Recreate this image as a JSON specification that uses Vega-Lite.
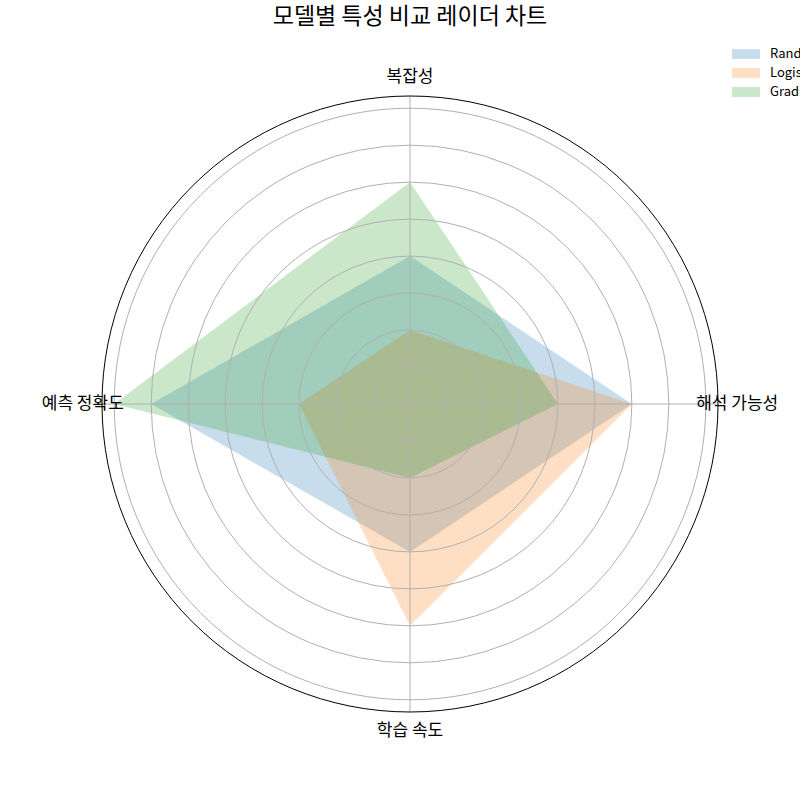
{
  "$schema": "https://vega.github.io/schema/vega-lite/v6.json",
  "width": 616,
  "height": 616,
  "autosize": {"type": "none"},
  "padding": {"left": 102, "top": 96, "right": 82, "bottom": 88},
  "background": "white",
  "title": {
    "text": "모델별 특성 비교 레이더 차트",
    "fontSize": 23,
    "font": "Noto Sans CJK KR",
    "fontWeight": "normal",
    "color": "#000000",
    "anchor": "middle",
    "frame": "group",
    "offset": 18
  },
  "config": {"view": {"stroke": null}, "font": "Noto Sans CJK KR"},
  "datasets": {
    "scores": [
      {"model": "Random Forest", "feature": "복잡성", "value": 4},
      {"model": "Random Forest", "feature": "해석 가능성", "value": 6},
      {"model": "Random Forest", "feature": "학습 속도", "value": 4},
      {"model": "Random Forest", "feature": "예측 정확도", "value": 7},
      {"model": "Logistic Regression", "feature": "복잡성", "value": 2},
      {"model": "Logistic Regression", "feature": "해석 가능성", "value": 6},
      {"model": "Logistic Regression", "feature": "학습 속도", "value": 6},
      {"model": "Logistic Regression", "feature": "예측 정확도", "value": 3},
      {"model": "Gradient Boosting", "feature": "복잡성", "value": 6},
      {"model": "Gradient Boosting", "feature": "해석 가능성", "value": 4},
      {"model": "Gradient Boosting", "feature": "학습 속도", "value": 2},
      {"model": "Gradient Boosting", "feature": "예측 정확도", "value": 8}
    ],
    "rings": [{"r": 1}, {"r": 2}, {"r": 3}, {"r": 4}, {"r": 5}, {"r": 6}, {"r": 7}, {"r": 8}],
    "features": [
      {"feature": "복잡성"},
      {"feature": "해석 가능성"},
      {"feature": "학습 속도"},
      {"feature": "예측 정확도"}
    ]
  },
  "layer": [
    {
      "data": {"name": "scores"},
      "transform": [
        {"calculate": "indexof(['복잡성','해석 가능성','학습 속도','예측 정확도'], datum.feature)", "as": "k"},
        {"calculate": "datum.value*sin(datum.k*PI/2)", "as": "px"},
        {"calculate": "datum.value*cos(datum.k*PI/2)", "as": "py"}
      ],
      "mark": {"type": "line", "filled": true, "interpolate": "linear-closed", "fillOpacity": 0.25, "strokeWidth": 0},
      "encoding": {
        "x": {"field": "px", "type": "quantitative", "scale": {"domain": [-8.33, 8.33], "nice": false, "zero": false}, "axis": null},
        "y": {"field": "py", "type": "quantitative", "scale": {"domain": [-8.33, 8.33], "nice": false, "zero": false}, "axis": null},
        "order": {"field": "k", "type": "quantitative"},
        "color": {
          "field": "model",
          "type": "nominal",
          "sort": ["Random Forest", "Logistic Regression", "Gradient Boosting"],
          "scale": {"domain": ["Random Forest", "Logistic Regression", "Gradient Boosting"], "range": ["#1f77b4", "#ff7f0e", "#2ca02c"]},
          "legend": {
            "title": null,
            "orient": "none",
            "legendX": 637,
            "legendY": -49,
            "symbolType": "M-2,-0.7H2V0.7H-2Z",
            "symbolSize": 196,
            "symbolStrokeWidth": 0,
            "symbolOpacity": 0.25,
            "labelFontSize": 13,
            "labelOffset": 17,
            "rowPadding": 5,
            "labelFont": "Noto Sans CJK KR",
            "labelColor": "#000000",
            "labelLimit": 300
          }
        }
      }
    },
    {
      "data": {"name": "rings"},
      "mark": {"type": "point", "shape": "circle", "filled": false, "stroke": "#b0b0b0", "strokeWidth": 1, "opacity": 1},
      "encoding": {
        "x": {"datum": 0, "type": "quantitative"},
        "y": {"datum": 0, "type": "quantitative"},
        "size": {"field": "r", "type": "quantitative", "scale": {"type": "pow", "exponent": 2, "domain": [0, 8.33], "range": [0, 379456]}, "legend": null}
      }
    },
    {
      "data": {"values": [{"v": 0}]},
      "mark": {"type": "rule", "stroke": "#b0b0b0", "strokeWidth": 1},
      "encoding": {"x": {"field": "v", "type": "quantitative"}}
    },
    {
      "data": {"values": [{"v": 0}]},
      "mark": {"type": "rule", "stroke": "#b0b0b0", "strokeWidth": 1},
      "encoding": {"y": {"field": "v", "type": "quantitative"}}
    },
    {
      "data": {"values": [{"r": 8.33}]},
      "mark": {"type": "point", "shape": "circle", "filled": false, "stroke": "#000000", "strokeWidth": 1, "opacity": 1},
      "encoding": {
        "x": {"datum": 0, "type": "quantitative"},
        "y": {"datum": 0, "type": "quantitative"},
        "size": {"field": "r", "type": "quantitative"}
      }
    },
    {
      "data": {"name": "features"},
      "transform": [
        {"calculate": "indexof(['복잡성','해석 가능성','학습 속도','예측 정확도'], datum.feature)", "as": "k"},
        {"calculate": "8.85*sin(datum.k*PI/2)", "as": "lx"},
        {"calculate": "8.85*cos(datum.k*PI/2)", "as": "ly"}
      ],
      "mark": {"type": "text", "fontSize": 17, "align": "center", "baseline": "middle", "font": "Noto Sans CJK KR", "color": "#000000"},
      "encoding": {
        "x": {"field": "lx", "type": "quantitative"},
        "y": {"field": "ly", "type": "quantitative"},
        "text": {"field": "feature"}
      }
    }
  ]
}
